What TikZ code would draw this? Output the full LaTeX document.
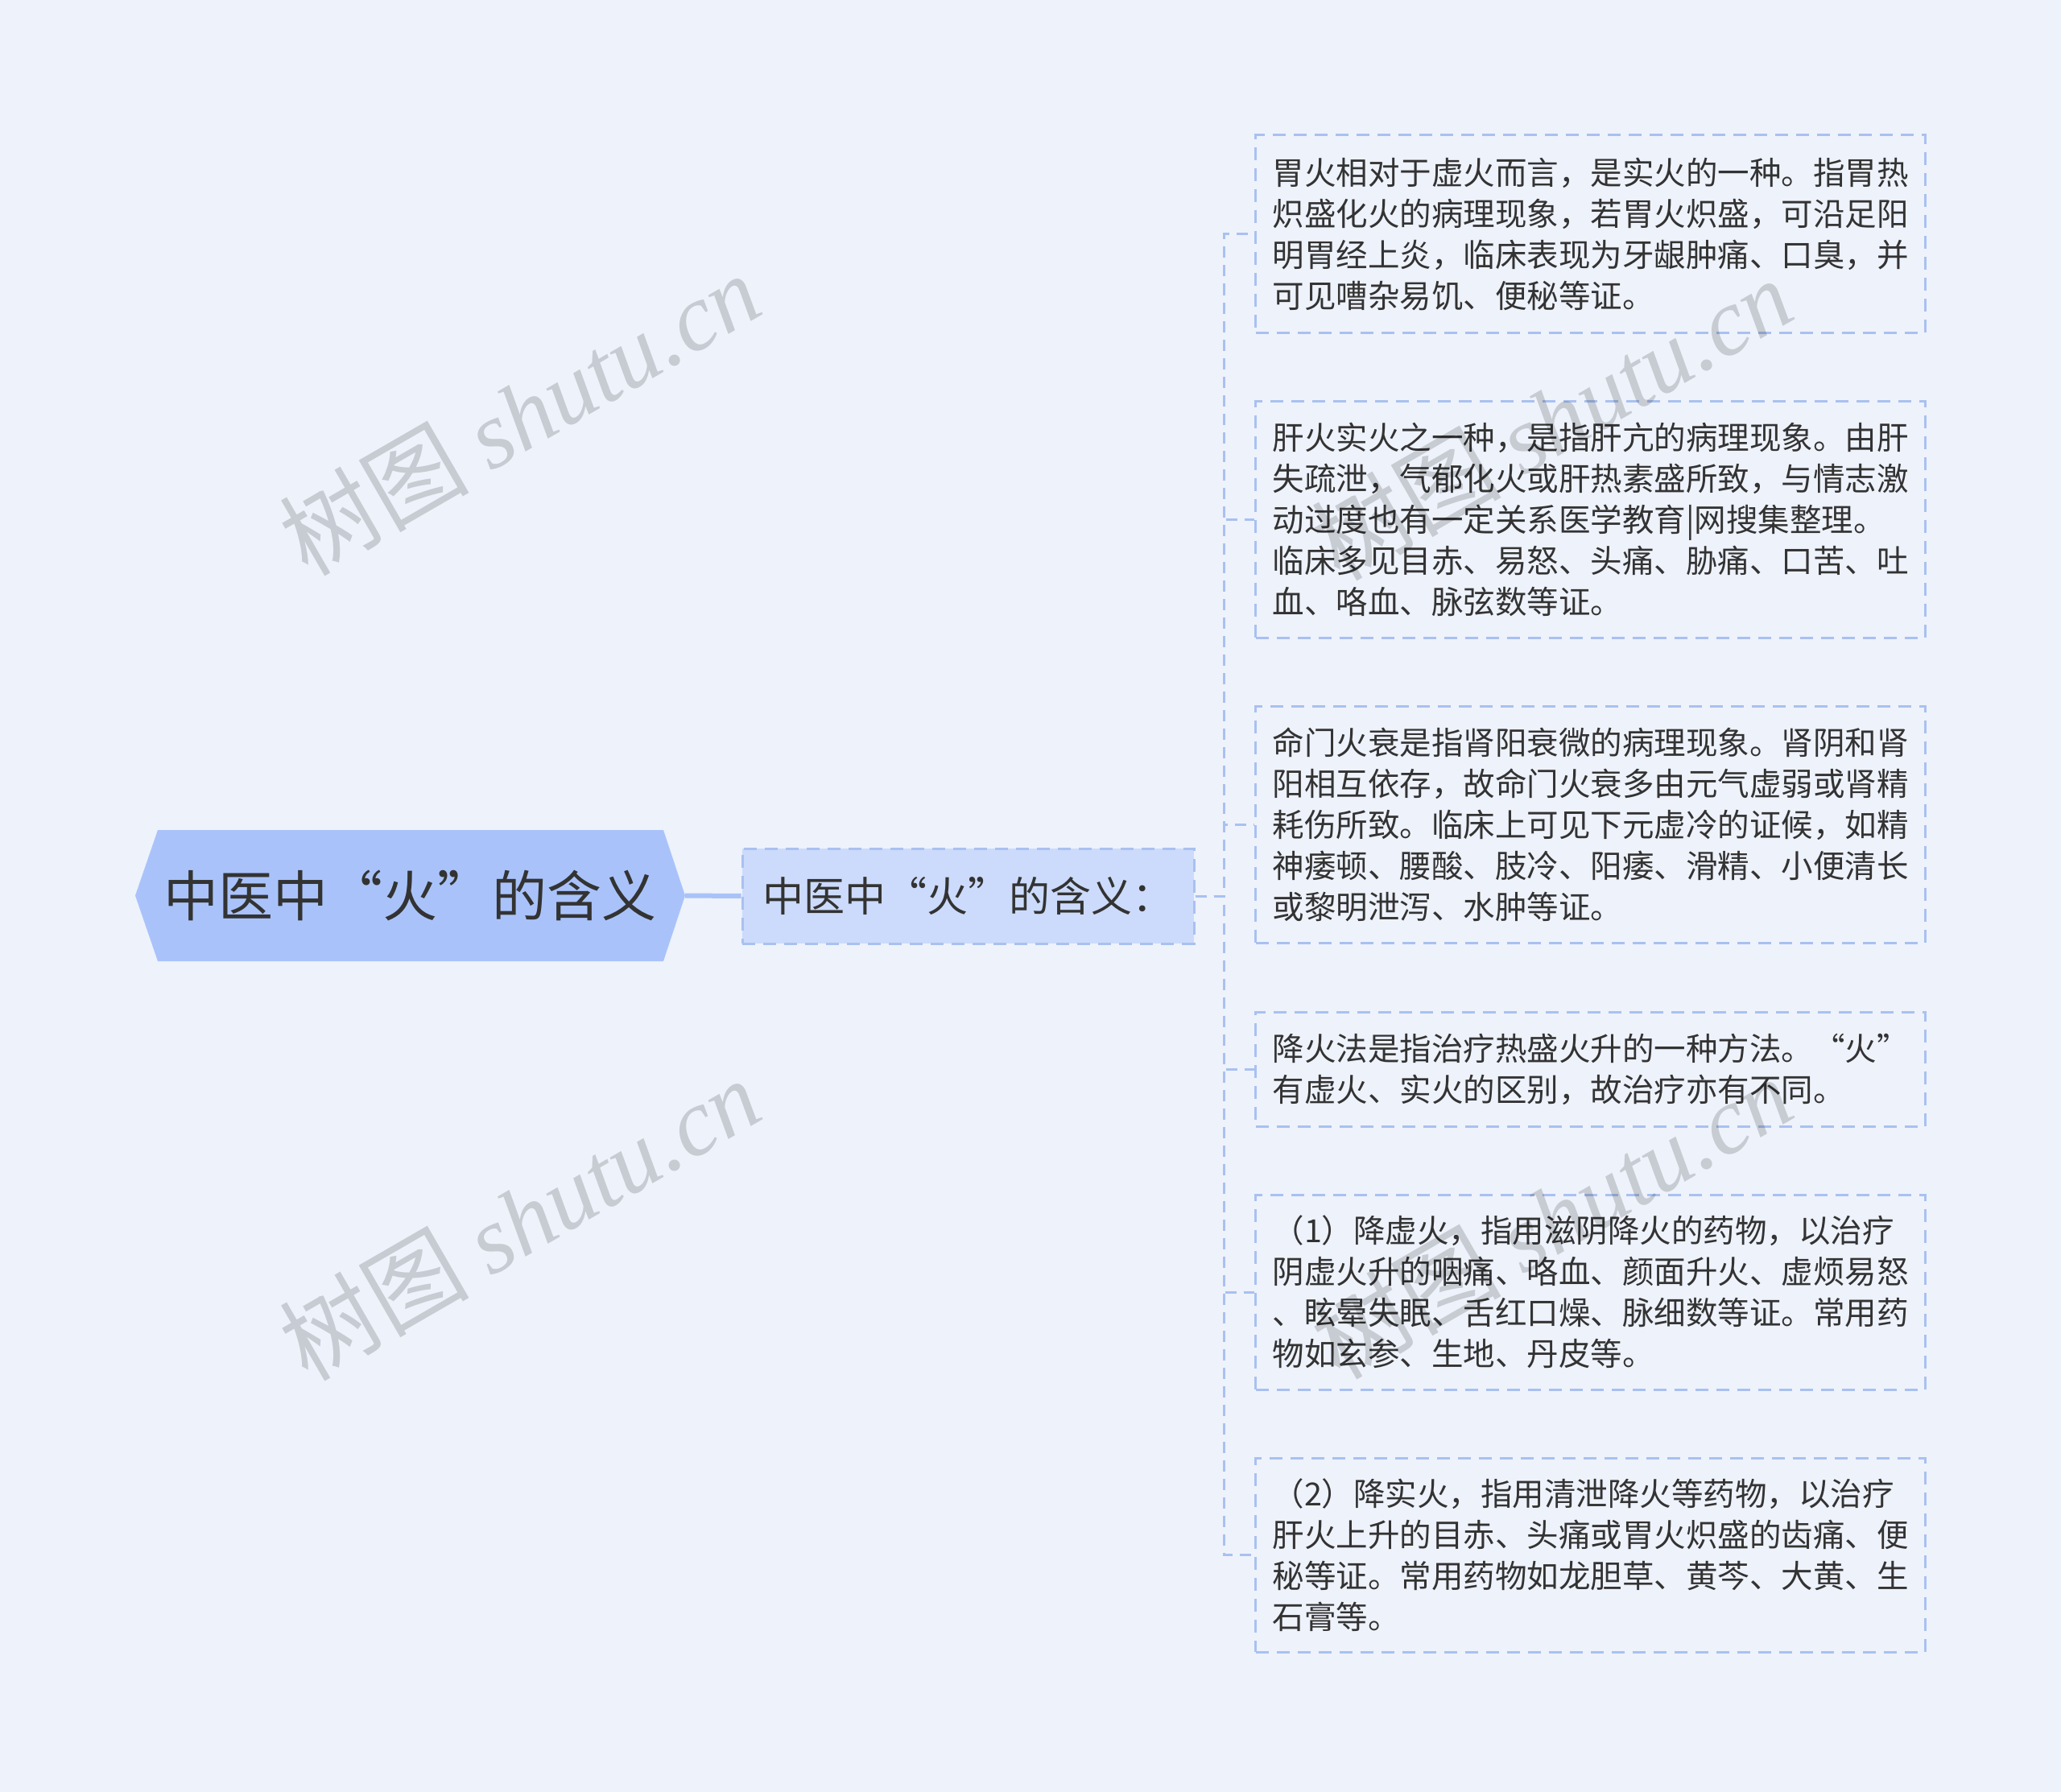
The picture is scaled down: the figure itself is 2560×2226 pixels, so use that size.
\documentclass[tikz,border=0pt]{standalone}
\usepackage{fontspec}
\setmainfont{Noto Sans CJK SC}
\newfontfamily\wmlatin{Liberation Serif}
\newfontfamily\wmcjk{Noto Sans CJK SC}
\definecolor{bgcol}{HTML}{EEF2FB}
\definecolor{rootfill}{HTML}{A9C3FA}
\definecolor{midfill}{HTML}{CCDBFB}
\definecolor{lineblue}{HTML}{A9C1F0}
\definecolor{rootline}{HTML}{A9C3F7}
\definecolor{txt}{HTML}{333333}
\begin{document}
\begin{tikzpicture}[x=1pt,y=-1pt,
  dashline/.style={draw=lineblue, line width=3pt, dash pattern=on 14pt off 9pt},
  rootnode/.style={minimum width=683pt, minimum height=163pt, inner sep=0pt, text=txt,
    font=\fontsize{68}{80}\selectfont,
    path picture={\fill[rootfill] (path picture bounding box.west)
      -- ([xshift=28pt]path picture bounding box.north west)
      -- ([xshift=-27pt]path picture bounding box.north east)
      -- (path picture bounding box.east)
      -- ([xshift=-27pt]path picture bounding box.south east)
      -- ([xshift=28pt]path picture bounding box.south west) -- cycle;}},
  midnode/.style={dashline, dash pattern=on 16pt off 10pt, fill=midfill, minimum width=561pt, minimum height=118pt,
    inner sep=0pt, text=txt, font=\fontsize{51}{60}\selectfont},
  leaf/.style={dashline, dash pattern=on 16pt off 10pt, anchor=west, text width=790pt, inner xsep=21pt, inner ysep=0pt,
    align=left, text=txt, font=\fontsize{39.5}{51}\selectfont},
  conn/.style={dashline},
  wm/.style={rotate=30, opacity=0.16, text=black, inner sep=0pt}
]
\fill[bgcol] (0,0) rectangle (2560,2226);
\useasboundingbox (0,0) rectangle (2560,2226);

\node[rootnode] (root) at (509.5,1112.5) {中医中“火”的含义};
\node[midnode] (mid) at (1202.5,1113) {中医中“火”的含义：};

\node[leaf, minimum height=245pt] (b1) at (1558,290.5) {胃火相对于虚火而言，是实火的一种。指胃热\\炽盛化火的病理现象，若胃火炽盛，可沿足阳\\明胃经上炎，临床表现为牙龈肿痛、口臭，并\\可见嘈杂易饥、便秘等证。};
\node[leaf, minimum height=294pt] (b2) at (1558,645) {肝火实火之一种，是指肝亢的病理现象。由肝\\失疏泄，气郁化火或肝热素盛所致，与情志激\\动过度也有一定关系医学教育|网搜集整理。\\临床多见目赤、易怒、头痛、胁痛、口苦、吐\\血、咯血、脉弦数等证。};
\node[leaf, minimum height=294pt] (b3) at (1558,1024) {命门火衰是指肾阳衰微的病理现象。肾阴和肾\\阳相互依存，故命门火衰多由元气虚弱或肾精\\耗伤所致。临床上可见下元虚冷的证候，如精\\神痿顿、腰酸、肢冷、阳痿、滑精、小便清长\\或黎明泄泻、水肿等证。};
\node[leaf, minimum height=142pt] (b4) at (1558,1328) {降火法是指治疗热盛火升的一种方法。“火”\\有虚火、实火的区别，故治疗亦有不同。};
\node[leaf, minimum height=242pt] (b5) at (1558,1605) {（1）降虚火，指用滋阴降火的药物，以治疗\\阴虚火升的咽痛、咯血、颜面升火、虚烦易怒\\、眩晕失眠、舌红口燥、脉细数等证。常用药\\物如玄参、生地、丹皮等。};
\node[leaf, minimum height=241pt] (b6) at (1558,1931.5) {（2）降实火，指用清泄降火等药物，以治疗\\肝火上升的目赤、头痛或胃火炽盛的齿痛、便\\秘等证。常用药物如龙胆草、黄芩、大黄、生\\石膏等。};

\draw[rootline, line width=6pt] (root.east) -- (mid.west);
\coordinate (spine) at (1520,1113);
\foreach \b in {b1,b2,b3,b4,b5,b6}{
  \draw[conn] (mid.east) -- (spine) |- (\b.west);
}

\node[wm] (wm1) at (645,514) {\wmcjk\fontsize{118}{120}\selectfont 树图\ \wmlatin\itshape shutu.cn};
\node[wm] (wm2) at (645,1514) {\wmcjk\fontsize{118}{120}\selectfont 树图\ \wmlatin\itshape shutu.cn};
\node[wm] (wm3) at (1927,520) {\wmcjk\fontsize{118}{120}\selectfont 树图\ \wmlatin\itshape shutu.cn};
\node[wm] (wm4) at (1927,1512) {\wmcjk\fontsize{118}{120}\selectfont 树图\ \wmlatin\itshape shutu.cn};
\end{tikzpicture}
\end{document}
